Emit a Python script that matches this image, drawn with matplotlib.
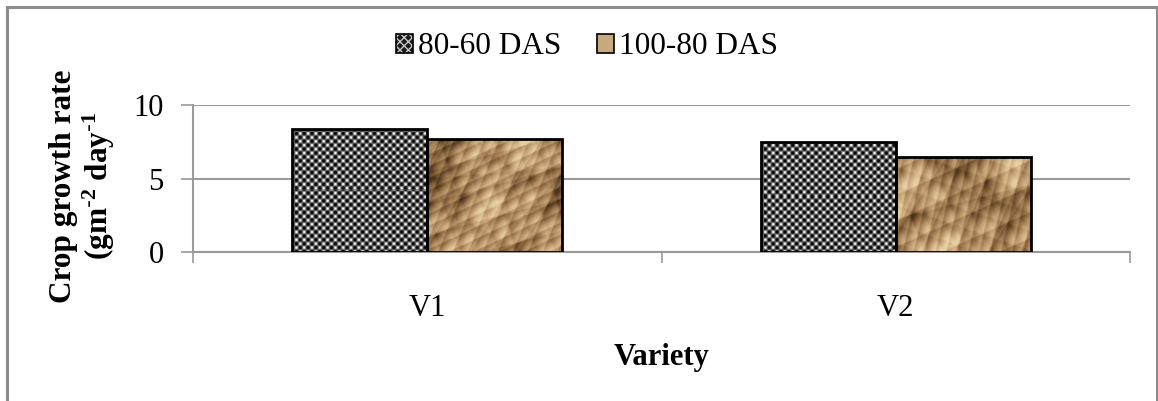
import numpy as np
import matplotlib
matplotlib.use("Agg")
import matplotlib.pyplot as plt
from matplotlib.patches import Patch, Rectangle
from matplotlib.colors import LinearSegmentedColormap
from matplotlib.legend_handler import HandlerTuple

plt.rcParams["font.family"] = ["Liberation Serif", "DejaVu Serif"]
plt.rcParams["mathtext.default"] = "regular"

# Crop growth rate (g m-2 day-1) per variety and growth interval
varieties = ["V1", "V2"]
series_names = ["80-60 DAS", "100-80 DAS"]
cgr_80_60 = [8.38, 7.48]
cgr_100_80 = [7.72, 6.46]

GRID = "#9a9a9a"
BAR_W = 0.288

brown_cmap = LinearSegmentedColormap.from_list(
    "paper", ["#4a3217", "#7a5834", "#a47f56", "#c9a87b", "#e8cfa3"])


def checker_texture(h, w):
    # dense black/white dot lattice
    yy, xx = np.mgrid[0:h, 0:w]
    v = np.cos(2 * np.pi * xx / 7.8) * np.cos(2 * np.pi * yy / 7.8)
    v = 0.5 + 0.5 * v
    return v ** 1.5


def paper_texture(h, w, shift=0.0):
    # crumpled paper: ridged waves at golden-angle steps, lit from top-left
    yy, xx = np.mgrid[0:h, 0:w] / 42.0
    f = np.zeros((h, w))
    for k in range(11):
        ang = k * 2.39996 + shift
        freq = 0.9 * 1.3 ** k
        t = np.cos(ang) * xx + np.sin(ang) * yy
        f += np.abs(np.sin(freq * t + 1.3 * k + shift)) / freq ** 0.8
    gy, gx = np.gradient(f)
    shade = -gx * 0.7 + gy * 0.7
    shade = (shade - shade.mean()) / shade.std()
    fn = (f - f.mean()) / f.std()
    img = 0.55 + 0.16 * shade + 0.1 * fn
    return brown_cmap(np.clip(img, 0, 1))


fig = plt.figure(figsize=(11.58, 4.01), dpi=100)
ax = fig.add_axes([193 / 1158, 1 - 252 / 401, 937 / 1158, 147 / 401])

x = np.arange(len(varieties))
px_per_unit = 147 / 10.0

for i, (a, b) in enumerate(zip(cgr_80_60, cgr_100_80)):
    for j, val in enumerate((a, b)):
        x0 = x[i] - BAR_W + j * BAR_W
        rect = Rectangle((x0, 0), BAR_W, val, facecolor="none",
                         edgecolor="black", lw=2, zorder=4)
        ax.add_patch(rect)
        h = max(int(val * px_per_unit), 2)
        if j == 0:
            tex = checker_texture(h, 135)
            im = ax.imshow(tex, cmap="gray", vmin=0, vmax=1, origin="lower",
                           extent=(x0, x0 + BAR_W, 0, val), aspect="auto",
                           interpolation="nearest", zorder=3)
        else:
            tex = paper_texture(h, 135, shift=0.9 * i)
            im = ax.imshow(tex, origin="lower", extent=(x0, x0 + BAR_W, 0, val),
                           aspect="auto", interpolation="bilinear", zorder=3)
        im.set_clip_path(rect)

ax.set_xlim(-0.5, 1.5)
ax.set_ylim(0, 10)
ax.set_yticks([0, 5, 10])
ax.yaxis.grid(True, color=GRID, lw=1.5)
ax.set_axisbelow(True)

ax.set_xticks([-0.5, 0.5, 1.5])
ax.set_xticklabels([])
ax.set_xticks(x, minor=True)
ax.set_xticklabels(varieties, minor=True)
ax.tick_params(axis="x", which="major", length=8, width=1.2, color=GRID)
ax.tick_params(axis="x", which="minor", length=0, pad=30, labelsize=22)
ax.tick_params(axis="y", length=9, width=1.2, color=GRID, pad=12, labelsize=22)

for side in ("top", "right"):
    ax.spines[side].set_visible(False)
for side in ("left", "bottom"):
    ax.spines[side].set_color(GRID)
    ax.spines[side].set_linewidth(1.5)

fig.text(662 / 1158, 1 - 357 / 401, "Variety", ha="center", va="center",
         fontsize=22, fontweight="bold")
fig.text(83 / 1158, 1 - 186 / 401,
         "Crop growth rate\n(gm$^{\\text{-}2}$ day$^{\\text{-}1}$",
         ha="center", va="center", rotation=90, fontsize=22.5,
         fontweight="bold", multialignment="center", linespacing=1.1)

dark_handle = (Patch(facecolor="#1a1a1a", edgecolor="#c8c8c8", hatch="xxxx", lw=0),
               Patch(facecolor="none", edgecolor="black", lw=1.2))
tan_handle = Patch(facecolor="#c9a97e", edgecolor="black", lw=1.2)
fig.legend([dark_handle, tan_handle], series_names, loc="center",
           bbox_to_anchor=(587 / 1158, 1 - 47 / 401), ncol=2, frameon=False,
           fontsize=22.5, handlelength=0.55, handleheight=0.55,
           handletextpad=0.15, columnspacing=1.15,
           handler_map={tuple: HandlerTuple(ndivide=1, pad=0)})

# chart-area border
fig.patches.append(Rectangle((7 / 1158, -0.05), 1150 / 1158, 1 - 7 / 401 + 0.05,
                             transform=fig.transFigure, fill=False,
                             edgecolor="#8c8c8c", lw=2.2))

fig.savefig("out.png", dpi=100)
